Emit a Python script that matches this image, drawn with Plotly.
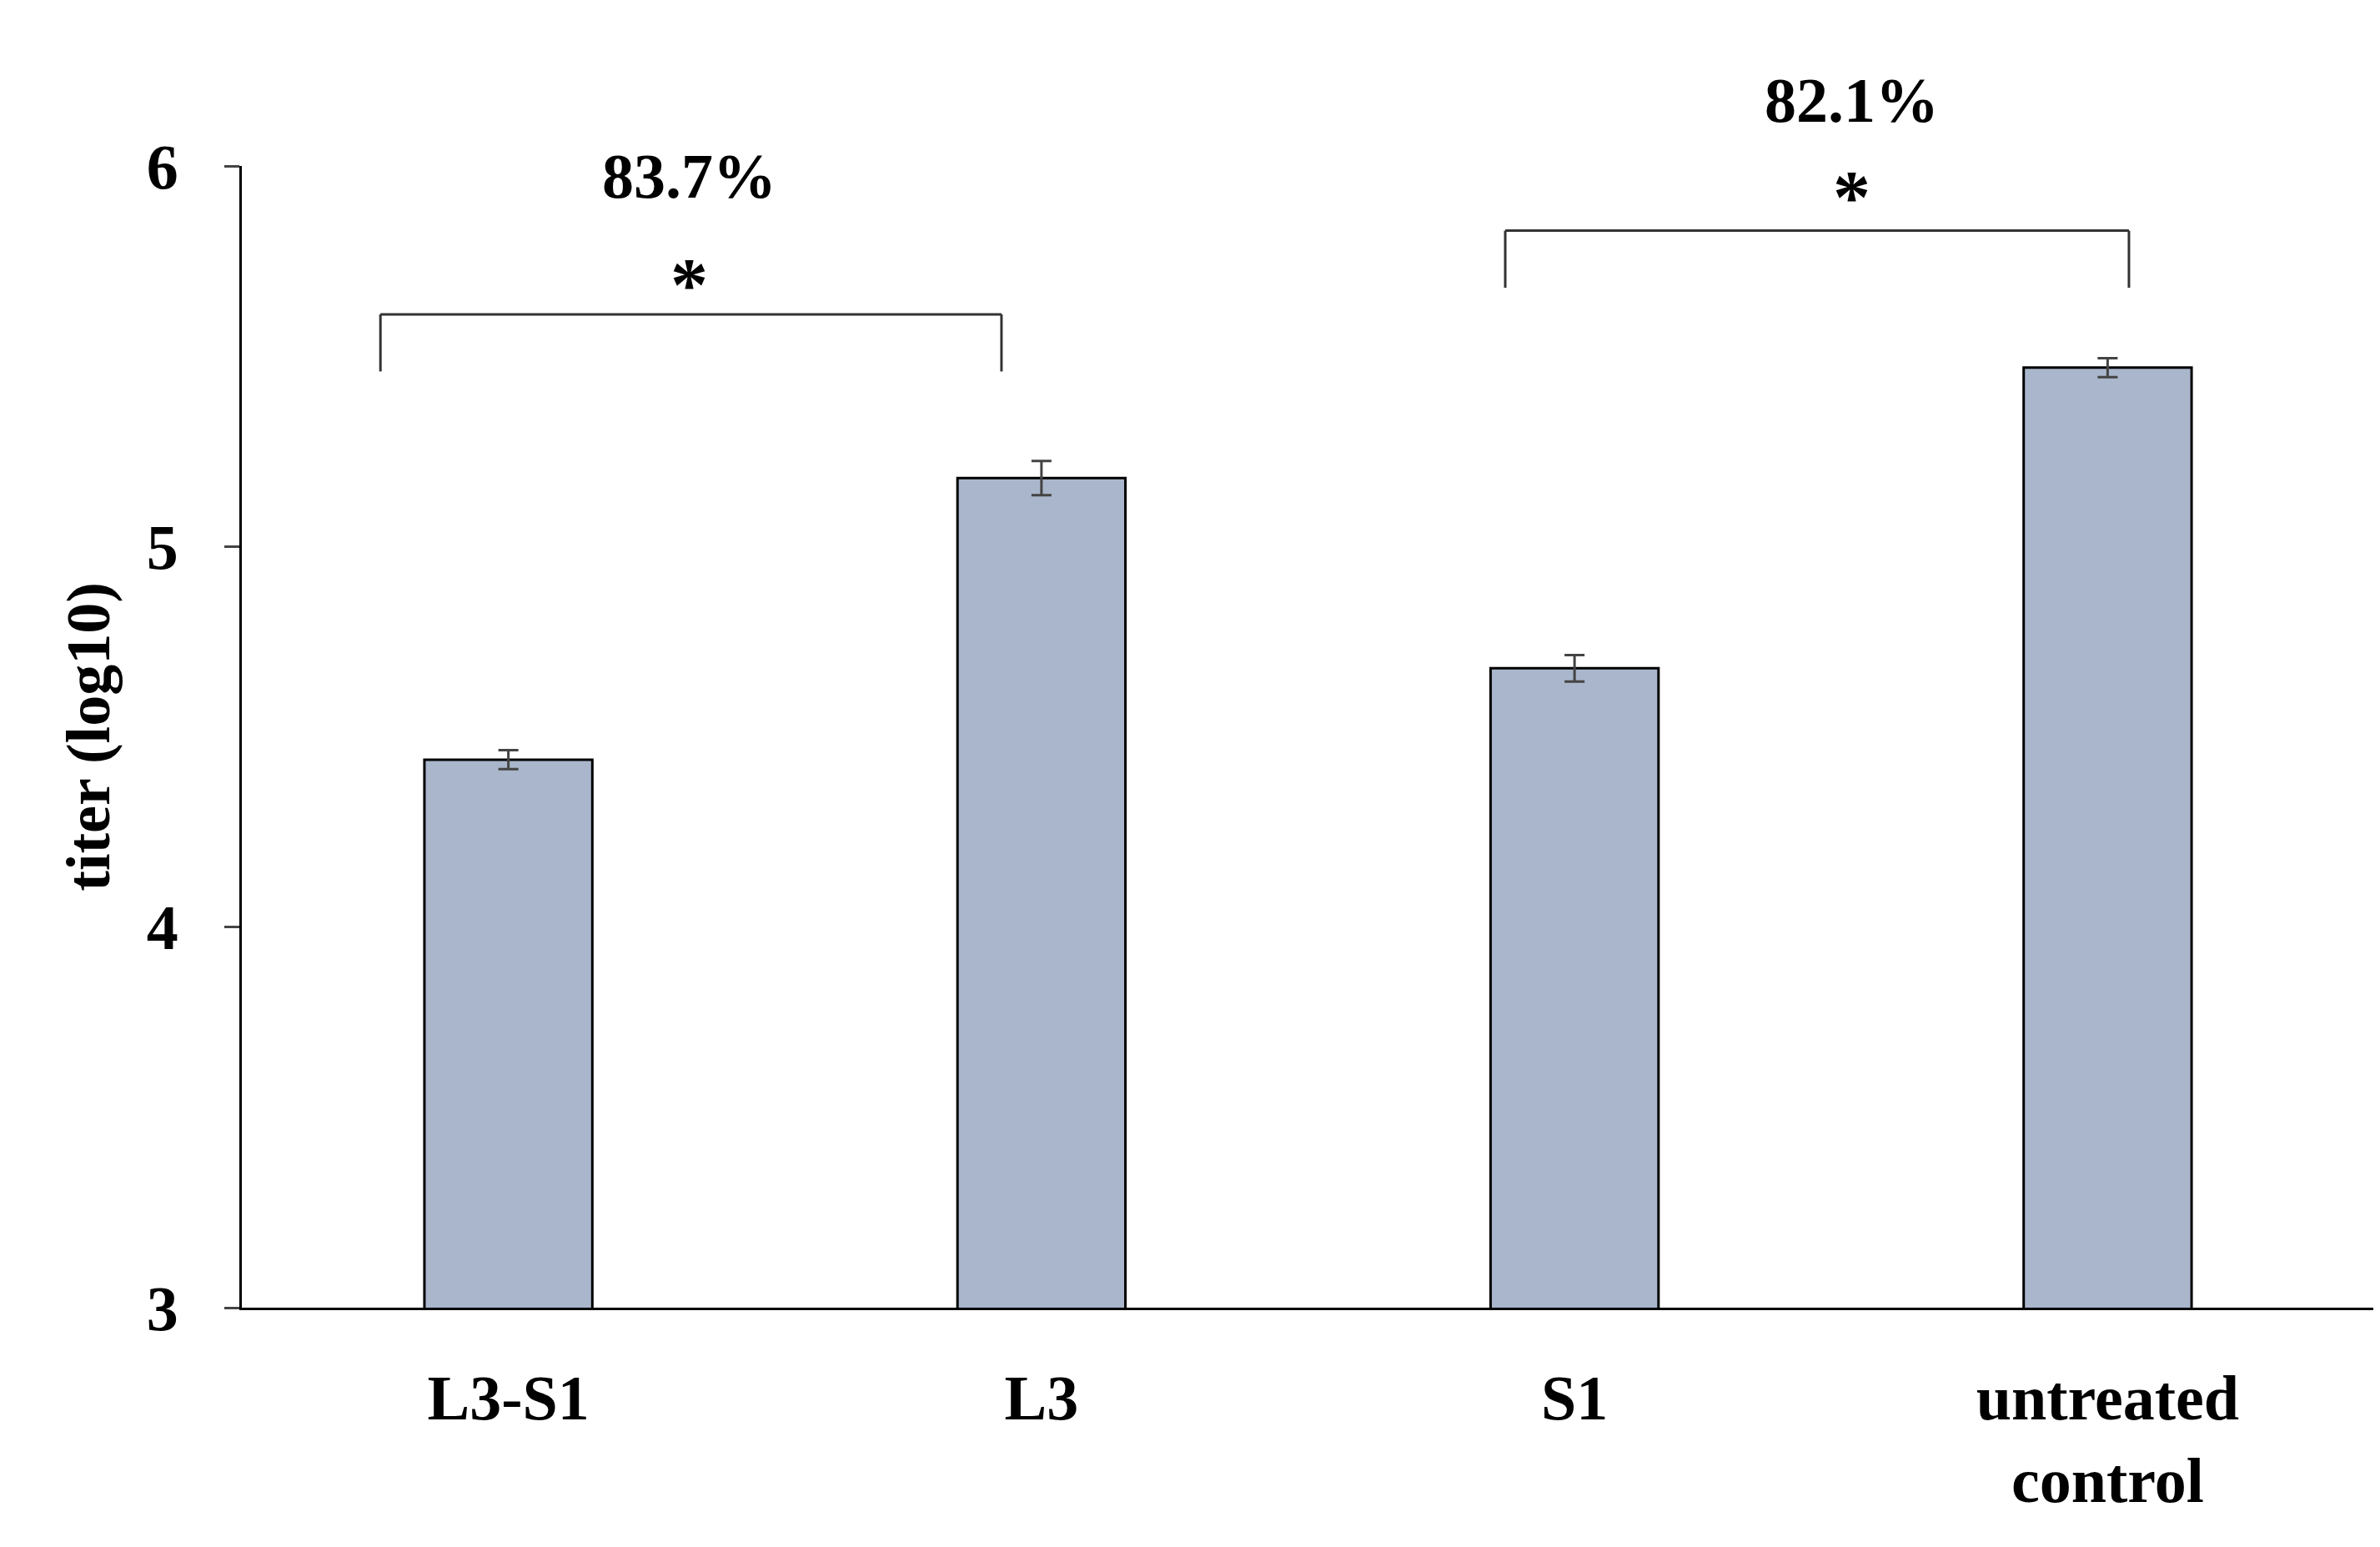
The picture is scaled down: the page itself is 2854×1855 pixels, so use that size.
import plotly.graph_objects as go

categories = ["L3-S1", "L3", "S1", "untreated<br>control"]
values = [4.44, 5.18, 4.68, 5.47]
errors = [0.025, 0.045, 0.035, 0.025]
tick_vals = [3, 4, 5, 6]

F = "Liberation Serif"
fig = go.Figure(go.Bar(
    x=list(range(4)), y=values, width=0.315,
    marker=dict(color="#a9b6cb", line=dict(color="black", width=3)),
    error_y=dict(type="data", array=errors, color="#444", thickness=3, width=12),
))

def bracket(x0, x1, ytop, ybot):
    for xs, ys in [((x0, x0), (ybot, ytop)), ((x0, x1), (ytop, ytop)), ((x1, x1), (ytop, ybot))]:
        fig.add_shape(type="line", x0=xs[0], x1=xs[1], y0=ys[0], y1=ys[1],
                      line=dict(color="#333", width=3), xref="x", yref="y")

bracket(-0.24, 0.925, 5.61, 5.46)
bracket(1.87, 3.04, 5.83, 5.68)
ann = [(0.34, 6.07, "83.7%"), (0.34, 5.80, "*"), (2.52, 6.27, "82.1%"), (2.52, 6.03, "*")]
for x, y, t in ann:
    fig.add_annotation(x=x, y=(y - 3) / 3, yref="paper", text=f"<b>{t}</b>", showarrow=False,
                       font=dict(family=F, size=76 if t != "*" else 90, color="black"))

fig.update_layout(
    width=2854, height=1855, plot_bgcolor="white", paper_bgcolor="white",
    margin=dict(l=282, r=15, t=191, b=295), showlegend=False,
    font=dict(family=F, color="black"),
)
fig.update_xaxes(range=[-0.5, 3.5], tickvals=list(range(4)),
                 ticktext=[f"<b>{c}</b>" for c in categories],
                 tickfont=dict(family=F, size=76), showline=True, linecolor="black",
                 linewidth=3, ticks="", showgrid=False, ticklabelstandoff=40)
fig.update_yaxes(range=[3, 6], tickvals=tick_vals, ticktext=[f"<b>{v}</b>" for v in tick_vals],
                 tickfont=dict(family=F, size=76), showline=True, linecolor="black",
                 linewidth=3, ticks="outside", ticklen=18, tickwidth=3, showgrid=False,
                 zeroline=False, ticklabelstandoff=40,
                 title=dict(text="<b>titer (log10)</b>", font=dict(family=F, size=74), standoff=20))
fig.write_html("out.html")
